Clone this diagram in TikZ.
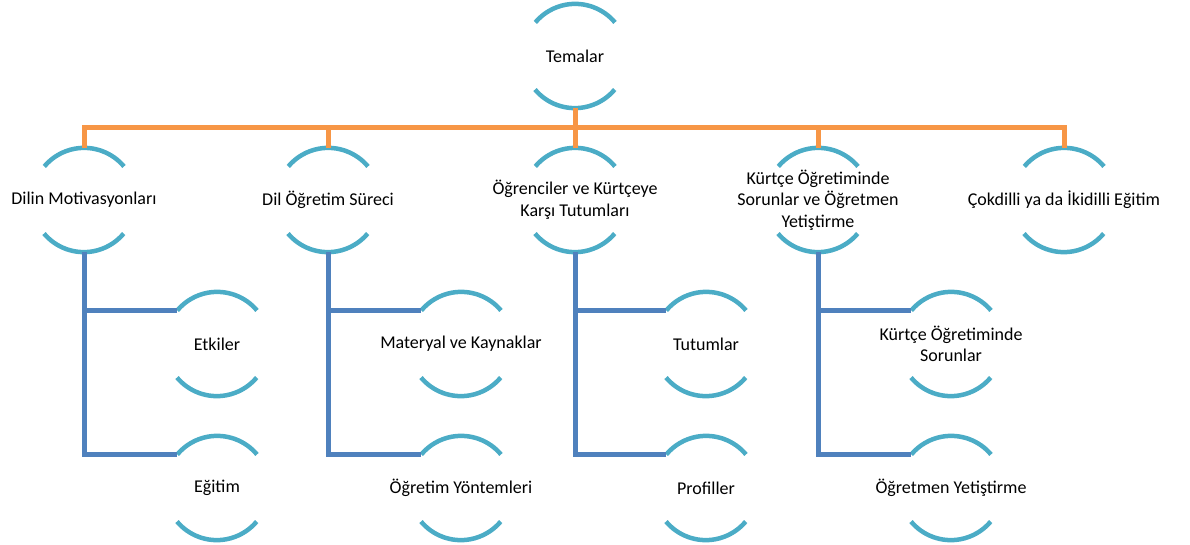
\documentclass[tikz,border=0pt]{standalone}
\usepackage{fontspec}
\setmainfont{Carlito}
\begin{document}
\begin{tikzpicture}[x=1pt,y=1pt,
  ring/.style={circle,minimum size=104pt,inner sep=0pt,draw=none},
  lbl/.style={align=center,font=\fontsize{18}{21.5}\selectfont,text=black},
  arcline/.style={draw={rgb,255:red,75;green,172;blue,198},line width=4.5pt},
  busline/.style={draw={rgb,255:red,247;green,150;blue,70},line width=5pt},
  subline/.style={draw={rgb,255:red,79;green,129;blue,189},line width=5pt}]
\useasboundingbox (0,0) rectangle (1190,544);

% ring positions
\node[ring] (root) at (575,488) {};
\node[ring] (l1) at (84,344) {};
\node[ring] (l2) at (328,344) {};
\node[ring] (l3) at (575,344) {};
\node[ring] (l4) at (818,344) {};
\node[ring] (l5) at (1064,344) {};
\node[ring] (a1) at (217,200) {};
\node[ring] (b1) at (217,56) {};
\node[ring] (a2) at (461,200) {};
\node[ring] (b2) at (461,56) {};
\node[ring] (a3) at (706,200) {};
\node[ring] (b3) at (706,56) {};
\node[ring] (a4) at (951,200) {};
\node[ring] (b4) at (951,56) {};

% top and bottom arcs of each ring
\foreach \n in {root,l1,l2,l3,l4,l5,a1,b1,a2,b2,a3,b3,a4,b4}{
  \draw[arcline] (\n.40) arc[start angle=40,end angle=140,radius=52pt];
  \draw[arcline] (\n.220) arc[start angle=220,end angle=320,radius=52pt];
}

% orange bus from the root to the themes
\foreach \n in {l1,l2,l3,l4,l5}
  \draw[busline] (root.south) -- ++(0,-19) -| (\n.north);

% blue branches to the sub-themes
\foreach \k in {1,2,3,4}{
  \draw[subline] (l\k.south) |- (a\k.140);
  \draw[subline] (l\k.south) |- (b\k.140);
}

% labels
\node[lbl] (troot) at (root) {Temalar};
\node[lbl] (tl1) at (l1) {Dilin Motivasyonları};
\node[lbl] (tl2) at (l2) {Dil Öğretim Süreci};
\node[lbl] (tl3) at (l3) {Öğrenciler ve Kürtçeye\\Karşı Tutumları};
\node[lbl] (tl4) at (l4) {Kürtçe Öğretiminde\\Sorunlar ve Öğretmen\\Yetiştirme};
\node[lbl] (tl5) at (l5) {Çokdilli ya da İkidilli Eğitim};
\node[lbl] (ta1) at (a1) {Etkiler};
\node[lbl] (tb1) at (b1) {Eğitim};
\node[lbl] (ta2) at (a2) {Materyal ve Kaynaklar};
\node[lbl] (tb2) at (b2) {Öğretim Yöntemleri};
\node[lbl] (ta3) at (a3) {Tutumlar};
\node[lbl] (tb3) at (b3) {Profiller};
\node[lbl] (ta4) at (a4) {Kürtçe Öğretiminde\\Sorunlar};
\node[lbl] (tb4) at (b4) {Öğretmen Yetiştirme};
\end{tikzpicture}
\end{document}
